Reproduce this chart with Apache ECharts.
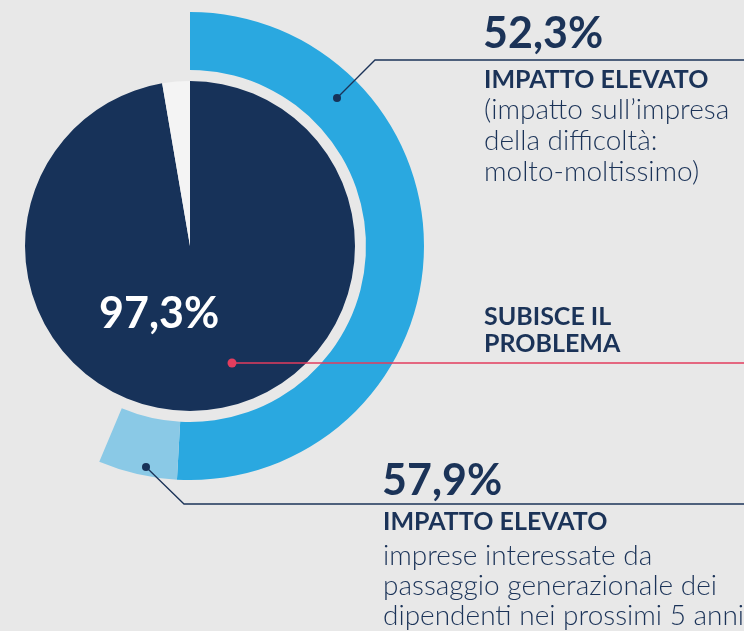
<!DOCTYPE html>
<html>
<head>
<meta charset="utf-8">
<script src="https://cdn.jsdelivr.net/npm/echarts@6/dist/echarts.min.js"></script>
<style>
  html, body { margin: 0; padding: 0; background: #e8e8e8; }
  #chart { width: 744px; height: 631px; }
</style>
</head>
<body>
<div id="chart"></div>
<script>
// dati
var innerNames = ["Subisce il problema", "Non subisce"];
var innerValues = [97.3, 2.7];
// anello esterno: quote sulle imprese che subiscono il problema
var ringNames = ["Impatto elevato (difficoltà)", "Impatto elevato (passaggio generazionale)", "Altro"];
var ringValues = [52.3, 5.6, 42.1];
var labelValues = ["97,3%", "52,3%", "57,9%"];

var navy = "#173259";
var textColor = "#1b3358";
var font = "Lato, 'Open Sans', sans-serif";

var chart = echarts.init(document.getElementById("chart"));

var innerData = innerNames.map(function (n, i) {
  return {
    name: n,
    value: innerValues[i],
    itemStyle: { color: i === 0 ? navy : "#f4f4f4" }
  };
});
var ringColors = ["#2aa8e0", "#8ac9e6", "rgba(0,0,0,0)"];
var ringData = ringNames.map(function (n, i) {
  return { name: n, value: ringValues[i], itemStyle: { color: ringColors[i] } };
});

// l'anello copre solo la parte "subisce il problema"
var ringEnd = 90 - (innerValues[0] / 100) * 360;

var option = {
  backgroundColor: "#e8e8e8",
  animation: false,
  series: [
    {
      type: "pie",
      center: [190, 246],
      radius: [0, 165],
      startAngle: 90,
      clockwise: true,
      silent: true,
      label: { show: false },
      labelLine: { show: false },
      data: innerData
    },
    {
      type: "pie",
      center: [190, 246],
      radius: [176, 234],
      startAngle: 90,
      endAngle: ringEnd,
      clockwise: true,
      silent: true,
      label: { show: false },
      labelLine: { show: false },
      data: ringData
    }
  ],
  graphic: [
    // etichetta centrale
    {
      type: "text", left: 99, top: 293, z: 10, silent: true,
      style: { text: labelValues[0], fill: "#ffffff", font: "bold 43px " + font }
    },
    // linea 52,3%
    {
      type: "polyline", z: 10, silent: true,
      shape: { points: [[337, 98], [375, 60], [744, 60]] },
      style: { stroke: textColor, lineWidth: 1.3, fill: null }
    },
    { type: "circle", z: 11, silent: true, shape: { cx: 337, cy: 98, r: 4 }, style: { fill: navy } },
    {
      type: "text", left: 483, top: 13, z: 10, silent: true,
      style: { text: labelValues[1], fill: textColor, font: "bold 43px " + font }
    },
    {
      type: "text", left: 484, top: 67, z: 10, silent: true,
      style: { text: "IMPATTO ELEVATO", fill: textColor, font: "bold 25px " + font }
    },
    {
      type: "text", left: 484, top: 94, z: 10, silent: true,
      style: {
        text: "(impatto sull\u2019impresa\ndella difficolt\u00e0:\nmolto-moltissimo)",
        fill: textColor, font: "300 28px " + font, lineHeight: 31
      }
    },
    // linea subisce il problema
    {
      type: "line", z: 10, silent: true,
      shape: { x1: 232, y1: 363, x2: 744, y2: 363 },
      style: { stroke: "#e33d5e", lineWidth: 1.3 }
    },
    { type: "circle", z: 11, silent: true, shape: { cx: 232, cy: 363, r: 4.5 }, style: { fill: "#e33d5e" } },
    {
      type: "text", left: 484, top: 303, z: 10, silent: true,
      style: { text: "SUBISCE IL\nPROBLEMA", fill: textColor, font: "bold 25px " + font, lineHeight: 27 }
    },
    // linea 57,9%
    {
      type: "polyline", z: 10, silent: true,
      shape: { points: [[146, 467], [184, 504], [744, 504]] },
      style: { stroke: textColor, lineWidth: 1.3, fill: null }
    },
    { type: "circle", z: 11, silent: true, shape: { cx: 146, cy: 467, r: 4 }, style: { fill: navy } },
    {
      type: "text", left: 382, top: 460, z: 10, silent: true,
      style: { text: labelValues[2], fill: textColor, font: "bold 43px " + font }
    },
    {
      type: "text", left: 383, top: 509, z: 10, silent: true,
      style: { text: "IMPATTO ELEVATO", fill: textColor, font: "bold 25px " + font }
    },
    {
      type: "text", left: 383, top: 541, z: 10, silent: true,
      style: {
        text: "imprese interessate da\npassaggio generazionale dei\ndipendenti nei prossimi 5 anni",
        fill: textColor, font: "300 28px " + font, lineHeight: 30
      }
    }
  ]
};

chart.setOption(option);
</script>
</body>
</html>
